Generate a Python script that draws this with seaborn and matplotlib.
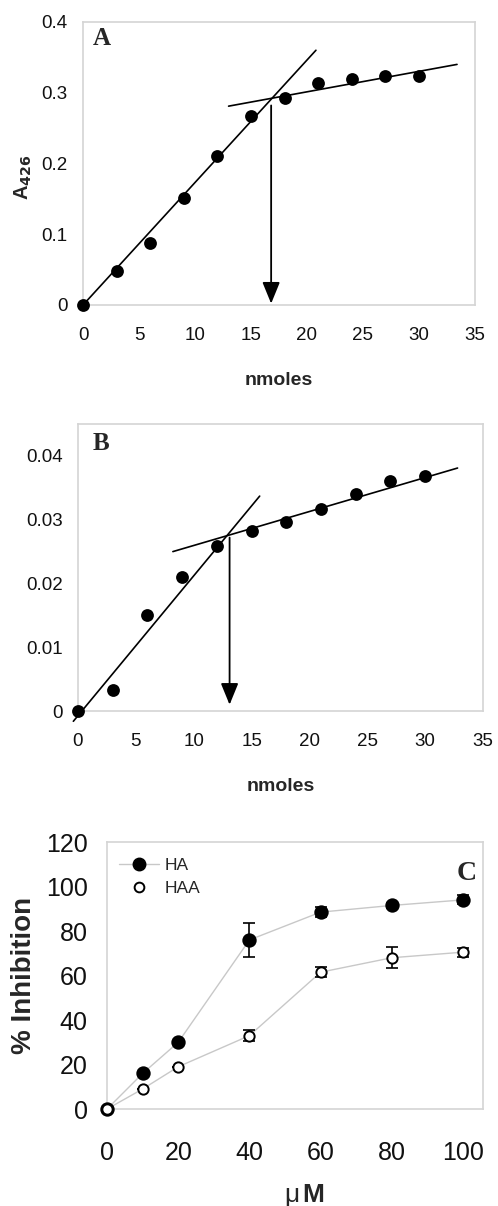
import numpy as np
import pandas as pd
import matplotlib
matplotlib.use("Agg")
import matplotlib.pyplot as plt
from matplotlib.lines import Line2D
import seaborn as sns

sns.set_theme(style="white")
plt.rcParams['font.family'] = ['Liberation Sans', 'DejaVu Sans']

# --- panel A: titration, A426 vs nmoles
a_nmol = [0, 3, 6, 9, 12, 15, 18, 21, 24, 27, 30]
a_abs = [0.0, 0.048, 0.088, 0.151, 0.211, 0.267, 0.293, 0.314, 0.319, 0.324, 0.324]
a_fit1_x = [0, 20.8]
a_fit1_y = [0.0, 0.360]
a_fit2_x = [13.0, 33.4]
a_fit2_y = [0.281, 0.340]
a_arrow_x = 16.8
a_arrow_y = [0.282, 0.002]

# --- panel B
b_nmol = [0, 3, 6, 9, 12, 15, 18, 21, 24, 27, 30]
b_abs = [0.0, 0.0033, 0.0151, 0.0210, 0.0259, 0.0282, 0.0296, 0.0317, 0.0340, 0.0360, 0.0369]
b_fit1_x = [-0.4, 15.7]
b_fit1_y = [-0.0016, 0.0337]
b_fit2_x = [8.2, 32.8]
b_fit2_y = [0.0250, 0.0381]
b_arrow_x = 13.1
b_arrow_y = [0.0272, 0.0010]

# --- panel C: % inhibition vs concentration
c_conc = [0, 10, 20, 40, 60, 80, 100]
c_ha = [0, 16, 30, 76, 88.5, 91.5, 94]
c_ha_err = [0, 0, 0, 7.5, 2.2, 1.0, 2.0]
c_haa = [0, 9, 19, 33, 61.5, 68, 70.5]
c_haa_err = [0, 0, 0, 2.5, 2.2, 4.8, 2.0]

frame_col = '#d4d4d4'
W, H = 498, 1206


def style_frame(ax):
    for s in ax.spines.values():
        s.set_color(frame_col)
        s.set_linewidth(1.2)
    ax.tick_params(axis='both', direction='out', length=4, width=1, color=frame_col,
                   labelcolor='#111111')


def titration_panel(ax, x, y, f1x, f1y, f2x, f2y, arr_x, arr_y):
    df = pd.DataFrame({'nmoles': x, 'abs': y})
    sns.scatterplot(data=df, x='nmoles', y='abs', ax=ax, color='black', s=85,
                    edgecolor='black', linewidth=0, clip_on=False, zorder=3)
    ax.plot(f1x, f1y, color='black', lw=1.2, clip_on=False)
    ax.plot(f2x, f2y, color='black', lw=1.2, clip_on=False)
    ax.annotate('', xy=(arr_x, arr_y[1]), xytext=(arr_x, arr_y[0]),
                arrowprops=dict(arrowstyle='-|>,head_length=1.1,head_width=0.45',
                                color='black', lw=1.3, shrinkA=0, shrinkB=0))
    ax.set_xlim(0, 35)
    ax.set_xticks(range(0, 36, 5))
    style_frame(ax)
    ax.tick_params(labelsize=13.5)
    ax.tick_params(axis='x', pad=12)
    ax.tick_params(axis='y', pad=7)
    ax.set_xlabel('nmoles', fontsize=14, fontweight='bold', labelpad=20)


def panel_letter(ax, txt, dx, dy, size=18, ha='left'):
    # offset in pixels from the axes top-left / top-right corner
    ax.annotate(txt, xy=(0 if ha == 'left' else 1, 1), xycoords='axes fraction',
                xytext=(dx * 0.72, -dy * 0.72), textcoords='offset points',
                family='Liberation Serif', fontweight='bold', fontsize=size,
                va='top', ha=ha)


fig = plt.figure(figsize=(W / 100, H / 100), dpi=100)

ax_a = fig.add_axes([0.1667, 0.7471, 0.787, 0.2347])
titration_panel(ax_a, a_nmol, a_abs, a_fit1_x, a_fit1_y, a_fit2_x, a_fit2_y,
                a_arrow_x, a_arrow_y)
ax_a.set_ylim(0, 0.4)
ax_a.set_yticks([0, 0.1, 0.2, 0.3, 0.4])
ax_a.set_yticklabels(['0', '0.1', '0.2', '0.3', '0.4'])
ax_a.set_ylabel('A$_{\\mathbf{426}}$', fontsize=14.5, fontweight='bold')
ax_a.yaxis.set_label_coords(-0.125, 0.45)
panel_letter(ax_a, 'A', 10, 5)

ax_b = fig.add_axes([0.1566, 0.4104, 0.8133, 0.238])
titration_panel(ax_b, b_nmol, b_abs, b_fit1_x, b_fit1_y, b_fit2_x, b_fit2_y,
                b_arrow_x, b_arrow_y)
ax_b.set_ylim(0, 0.045)
ax_b.set_yticks([0, 0.01, 0.02, 0.03, 0.04])
ax_b.set_yticklabels(['0', '0.01', '0.02', '0.03', '0.04'])
ax_b.set_ylabel('')
panel_letter(ax_b, 'B', 15, 8)

# panel C
ax_c = fig.add_axes([0.2149, 0.0804, 0.755, 0.2214])
df_c = pd.DataFrame({'conc': c_conc * 2,
                     'inh': c_ha + c_haa,
                     'err': c_ha_err + c_haa_err,
                     'comp': ['HA'] * len(c_conc) + ['HAA'] * len(c_conc)})
sns.lineplot(data=df_c, x='conc', y='inh', units='comp', estimator=None,
             color='#c8c8c8', lw=1.0, ax=ax_c, zorder=1)
for comp, face, size in [('HA', 'black', 80), ('HAA', 'white', 55)]:
    sub = df_c[df_c['comp'] == comp]
    ax_c.errorbar(sub['conc'], sub['inh'], yerr=sub['err'], fmt='none',
                  ecolor='black', elinewidth=1.2, capsize=4, capthick=1.2,
                  zorder=2, clip_on=False)
    sns.scatterplot(data=sub, x='conc', y='inh', ax=ax_c, color=face, s=size,
                    edgecolor='black', linewidth=1.4, clip_on=False, zorder=3)
ax_c.set_xlim(0, 105.6)
ax_c.set_ylim(0, 120)
ax_c.set_xticks(c_conc[:1] + c_conc[2:])
ax_c.set_yticks(range(0, 121, 20))
style_frame(ax_c)
ax_c.tick_params(labelsize=18)
ax_c.tick_params(axis='x', pad=19)
ax_c.tick_params(axis='y', pad=10)
ax_c.set_xlabel('')
ax_c.set_ylabel('% Inhibition', fontsize=20, fontweight='bold', labelpad=6)
panel_letter(ax_c, 'C', -6, 19, size=20, ha='right')
handles = [Line2D([], [], color='#c8c8c8', lw=1.0, marker='o', markersize=9,
                  markerfacecolor='black', markeredgecolor='black'),
           Line2D([], [], color='none', marker='o', markersize=7,
                  markerfacecolor='white', markeredgecolor='black', markeredgewidth=1.4)]
ax_c.legend(handles, ['HA', 'HAA'], loc='upper left', bbox_to_anchor=(0.0, 0.985),
            frameon=False, fontsize=12.5, handlelength=2.3, handletextpad=0.3,
            borderaxespad=0.3, labelspacing=0.45)

# x label of panel C: upright mu in regular weight, M in bold
fig.text(299 / W, 4 / H, '\u03bc', fontsize=19, ha='right', va='baseline')
fig.text(302 / W, 4 / H, 'M', fontsize=19, fontweight='bold', ha='left', va='baseline')

fig.savefig('out.png', dpi=100)
